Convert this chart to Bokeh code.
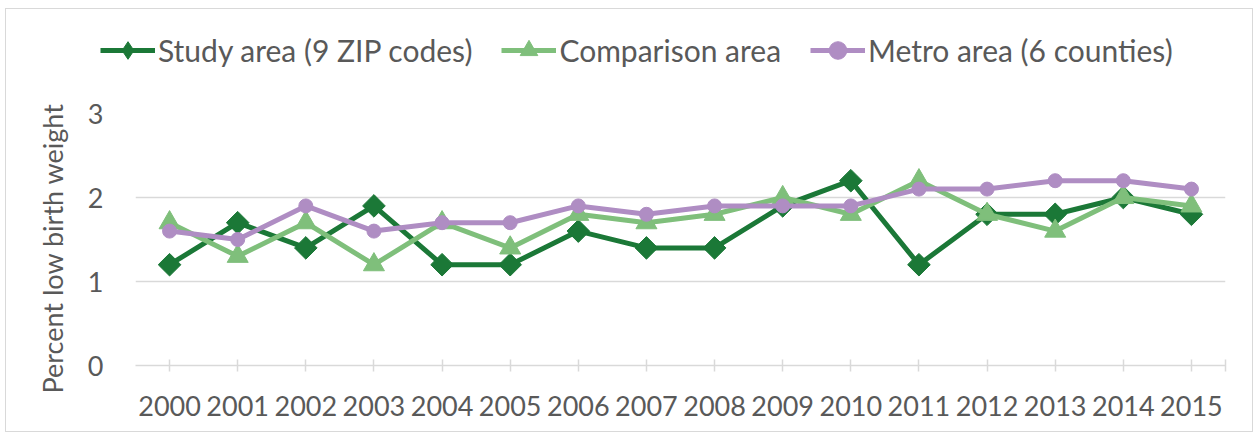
from bokeh.plotting import figure
from bokeh.layouts import column
from bokeh.models import FixedTicker, Legend, LegendItem, Range1d, Title
from bokeh.embed import file_html
from bokeh.resources import INLINE

years = ["2000", "2001", "2002", "2003", "2004", "2005", "2006", "2007",
         "2008", "2009", "2010", "2011", "2012", "2013", "2014", "2015"]
study = [1.2, 1.7, 1.4, 1.9, 1.2, 1.2, 1.6, 1.4, 1.4, 1.9, 2.2, 1.2, 1.8, 1.8, 2.0, 1.8]
comparison = [1.7, 1.3, 1.7, 1.2, 1.7, 1.4, 1.8, 1.7, 1.8, 2.0, 1.8, 2.2, 1.8, 1.6, 2.0, 1.9]
metro = [1.6, 1.5, 1.9, 1.6, 1.7, 1.7, 1.9, 1.8, 1.9, 1.9, 1.9, 2.1, 2.1, 2.2, 2.2, 2.1]
series_names = ["Study area (9 ZIP codes)", "Comparison area", "Metro area (6 counties)"]
y_title = "Percent low birth weight"
y_ticks = [0, 1, 2, 3]

FONT = "Lato"
TXT = "#595959"
GRID = "#D9D9D9"
C_STUDY = "#1B7837"
C_COMP = "#7FBF7B"
C_METRO = "#AF8DC3"

xs = list(range(len(years)))
W = 1246

# ---------- main chart ----------
p = figure(width=W, height=340, output_backend="svg", toolbar_location=None,
           x_range=Range1d(-0.5, len(years) - 0.5), y_range=Range1d(0, 3),
           min_border_left=129, min_border_right=27, min_border_top=22, min_border_bottom=66)
p.outline_line_color = None

p.xgrid.grid_line_color = None
p.ygrid.grid_line_color = GRID
p.ygrid.grid_line_width = 1.5
p.ygrid.ticker = FixedTicker(ticks=y_ticks)

p.yaxis.ticker = FixedTicker(ticks=y_ticks)
p.yaxis.axis_line_color = None
p.yaxis.major_tick_line_color = None
p.yaxis.minor_tick_line_color = None
p.yaxis.major_label_text_font = FONT
p.yaxis.major_label_text_font_size = "27px"
p.yaxis.major_label_text_color = TXT
p.yaxis.major_label_standoff = 26

p.add_layout(Title(text=y_title, align="left", offset=-28, standoff=32,
                   text_font=FONT, text_font_size="27px", text_font_style="normal",
                   text_color=TXT), "left")

p.xaxis.ticker = FixedTicker(ticks=xs + [len(years) - 0.5])
p.xaxis.major_label_overrides = {**{i: y for i, y in enumerate(years)}, len(years) - 0.5: ""}
p.xaxis.axis_line_color = GRID
p.xaxis.axis_line_width = 1.5
p.xaxis.major_tick_line_color = GRID
p.xaxis.major_tick_line_width = 1.5
p.xaxis.major_tick_in = 6
p.xaxis.major_tick_out = 6
p.xaxis.minor_tick_line_color = None
p.xaxis.major_label_text_font = FONT
p.xaxis.major_label_text_font_size = "27px"
p.xaxis.major_label_text_color = TXT
p.xaxis.major_label_standoff = 24

# (values, colour, marker, size, angle, legend marker)
styles = [
    (study, C_STUDY, "square", 16, 0.785398, "diamond"),
    (comparison, C_COMP, "triangle", 21, 0.0, "triangle"),
    (metro, C_METRO, "circle", 14, 0.0, "circle"),
]
for vals, col, mk, sz, ang, lmk in styles:
    p.line(xs, vals, line_color=col, line_width=5)
    p.scatter(xs, vals, marker=mk, size=sz, angle=ang, fill_color=col, line_color=col)

# ---------- legend strip ----------
lg = figure(width=W, height=82, output_backend="svg", toolbar_location=None,
            x_range=Range1d(0, 1), y_range=Range1d(0, 1),
            min_border_left=0, min_border_right=0, min_border_top=0, min_border_bottom=0)
lg.axis.visible = False
lg.grid.visible = False
lg.outline_line_color = None
aligned_off = False
if "frame_align" in lg.properties():
    lg.frame_align = False
    aligned_off = True
items = []
for name, (vals, col, mk, sz, ang, lmk) in zip(series_names, styles):
    r1 = lg.line([-5, -4], [-5, -5], line_color=col, line_width=5)
    r2 = lg.scatter([-5], [-5], marker=lmk, size=sz, fill_color=col, line_color=col)
    items.append(LegendItem(label=name, renderers=[r1, r2]))
legend = Legend(items=items, orientation="horizontal", location="left")
legend.label_text_font = FONT
legend.label_text_font_size = "30px"
legend.label_text_color = TXT
legend.glyph_width = 55
legend.glyph_height = 44
legend.label_standoff = 3
legend.spacing = 29
legend.padding = 0
legend.margin = 94 if aligned_off else 0
legend.border_line_color = None
legend.background_fill_alpha = 0
lg.add_layout(legend, "center")

layout = column(lg, p, spacing=0,
                styles={"border": "1px solid #D9D9D9", "margin-left": "5px", "margin-top": "8px"})
open("out.html", "w").write(file_html(layout, INLINE))
